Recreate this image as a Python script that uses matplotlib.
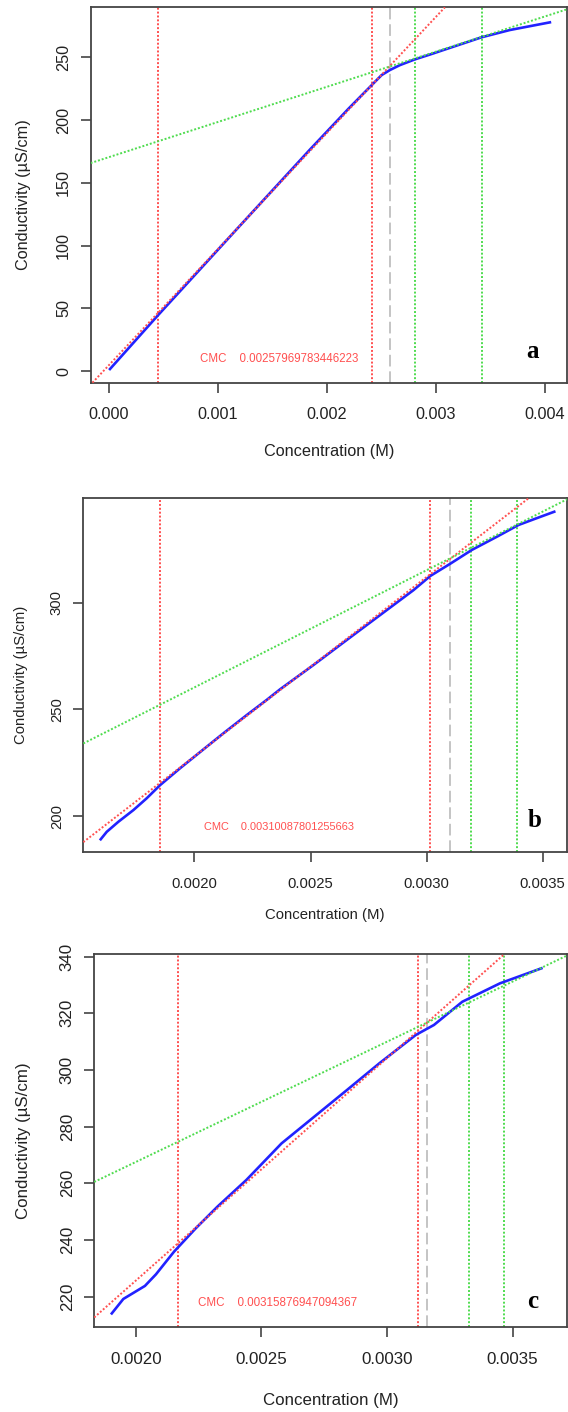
import numpy as np
import matplotlib
matplotlib.use("Agg")
import matplotlib.pyplot as plt

plt.rcParams['font.family'] = ['Liberation Sans', 'DejaVu Sans']

# ---- data ----
conc_a = [0.0000119, 0.000455, 0.001143, 0.001847, 0.0022, 0.002413, 0.002505,
          0.002581, 0.002672, 0.00281, 0.00295, 0.00307, 0.00325, 0.003422,
          0.003682, 0.004049]
cond_a = [1.6, 44.7, 110.0, 176.5, 209.0, 227.8, 235.9, 239.9, 243.8, 248.4,
          252.3, 255.8, 261.0, 266.0, 271.8, 277.9]

conc_b = [0.001596, 0.001622, 0.001672, 0.001737, 0.001794, 0.001852, 0.001938,
          0.002053, 0.002125, 0.002225, 0.002311, 0.002369, 0.002513, 0.002656,
          0.0028, 0.002944, 0.003016, 0.0031, 0.003195, 0.003303, 0.003396,
          0.003475, 0.00355]
cond_b = [189.1, 192.6, 197.3, 202.8, 208.3, 214.5, 222.4, 232.5, 238.8, 247.3,
          254.4, 259.4, 270.8, 282.5, 294.2, 305.9, 312.5, 318.1, 324.7, 330.9,
          336.4, 339.6, 342.6]

conc_c = [0.001904, 0.00195, 0.002036, 0.00208, 0.002152, 0.002238, 0.002325,
          0.00244, 0.00258, 0.00271, 0.00284, 0.00297, 0.003115, 0.003187,
          0.0033, 0.00345, 0.003615]
cond_c = [214.1, 219.2, 223.8, 227.9, 235.9, 244.1, 251.8, 261.2, 274.1, 283.5,
          292.9, 302.4, 312.4, 315.9, 324.1, 330.6, 335.9]

cmc = [0.00257969783446223, 0.00310087801255663, 0.00315876947094367]
cmc_text = ["0.00257969783446223", "0.00310087801255663", "0.00315876947094367"]

# fit window limits (red = pre-CMC, green = post-CMC)
red_win = [[0.000455, 0.002416], [0.00185, 0.003014], [0.002169, 0.003124]]
green_win = [[0.002815, 0.003426], [0.003191, 0.003391], [0.003326, 0.003467]]

# fitted lines (slope, intercept)
red_fit = [(92500, 4.5), (84000, 60.0), (78500, 68.7)]
green_fit = [(28030, 170.4), (54900, 150.5), (42430, 182.7)]

xlims = [(-0.000166, 0.004206), (0.001521, 0.003605), (0.001834, 0.003717)]
ylims = [(-9.3, 289.9), (183.0, 348.9), (209.2, 340.85)]
xticks = [[0.0, 0.001, 0.002, 0.003, 0.004],
          [0.002, 0.0025, 0.003, 0.0035],
          [0.002, 0.0025, 0.003, 0.0035]]
xtick_fmt = ["%.3f", "%.4f", "%.4f"]
yticks = [[0, 50, 100, 150, 200, 250], [200, 250, 300],
          [220, 240, 260, 280, 300, 320, 340]]
letters = ["a", "b", "c"]

RED = '#ff5050'
GREEN = '#4fdc4f'
GRAY = '#c4c4c4'
BLUE = '#2222ff'

fig = plt.figure(figsize=(5.68, 14.12), dpi=100)


def px_axes(left, top, right, bottom):
    return fig.add_axes([left / 568, 1 - bottom / 1412,
                         (right - left) / 568, (bottom - top) / 1412])


# pixel boxes and per-panel text sizes (panels were scaled differently)
boxes = [(90.6, 7.3, 567, 382.7), (83.3, 498.3, 567, 852.3),
         (94.2, 954.3, 567, 1327.3)]
fsize = [11.7, 10.7, 12.2]
cmc_size = [8.3, 7.9, 8.4]
cmc_pos = [(0.3955, 0.063), (0.4046, 0.0723), (0.3888, 0.066)]
letter_pos = [(0.928, 0.083), (0.933, 0.089), (0.927, 0.069)]
xlab_y = [-0.1846, -0.177, -0.195]
ylab_x = [-0.14, -0.129, -0.1495]

dot = (0, (1, 1))
for i in range(3):
    ax = px_axes(*boxes[i])
    x = [conc_a, conc_b, conc_c][i]
    y = [cond_a, cond_b, cond_c][i]

    for v in red_win[i]:
        ax.axvline(v, color=RED, lw=1.4, ls=dot)
    ax.axvline(cmc[i], color=GRAY, lw=1.4, ls=(0, (6, 2.5)))
    for v in green_win[i]:
        ax.axvline(v, color=GREEN, lw=1.4, ls=dot)

    ax.plot(x, y, color=BLUE, lw=1.9, zorder=3)

    s, b = red_fit[i]
    ax.axline((0, b), slope=s, color=RED, lw=1.4, ls=dot, zorder=4)
    s, b = green_fit[i]
    ax.axline((0, b), slope=s, color=GREEN, lw=1.4, ls=dot, zorder=4)

    ax.set_xlim(*xlims[i])
    ax.set_ylim(*ylims[i])
    ax.set_xticks(xticks[i])
    ax.set_xticklabels([xtick_fmt[i] % t for t in xticks[i]])
    ax.set_yticks(yticks[i])
    ax.set_yticklabels([str(t) for t in yticks[i]], rotation=90, va='center')

    for sp in ax.spines.values():
        sp.set_color('#444444')
        sp.set_linewidth(1.3)
    ax.tick_params(axis='both', colors='#444444', labelcolor='#222222',
                   labelsize=fsize[i], width=1.2, length=7)
    ax.tick_params(axis='x', pad=10.5)
    ax.tick_params(axis='y', pad=7)

    ax.set_xlabel("Concentration (M)", fontsize=fsize[i], color='#222222',
                  va='center')
    ax.xaxis.set_label_coords(0.5, xlab_y[i])
    ax.set_ylabel("Conductivity (µS/cm)", fontsize=fsize[i], color='#222222',
                  va='center')
    ax.yaxis.set_label_coords(ylab_x[i], 0.5)

    ax.text(cmc_pos[i][0], cmc_pos[i][1], "CMC    " + cmc_text[i],
            transform=ax.transAxes, color=RED, fontsize=cmc_size[i],
            ha='center', va='center')
    ax.text(letter_pos[i][0], letter_pos[i][1], letters[i],
            transform=ax.transAxes, fontsize=18, fontweight='bold',
            family='Liberation Serif', ha='center', va='center')

fig.savefig("out.png", dpi=100)
